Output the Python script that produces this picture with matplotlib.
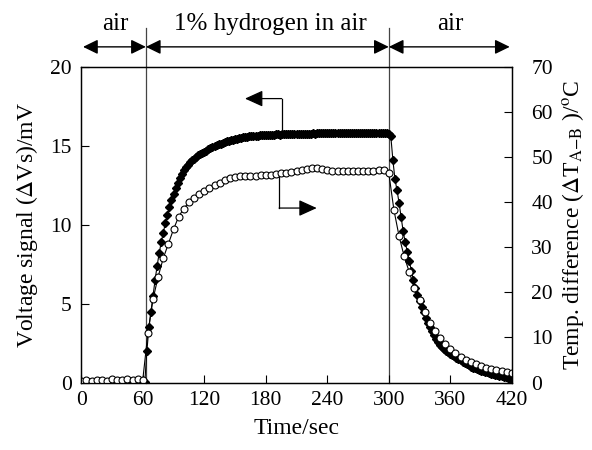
import matplotlib
matplotlib.use("Agg")
import matplotlib.pyplot as plt
import matplotlib.transforms as mtransforms

plt.rcParams['font.family'] = ['Liberation Serif', 'STIXGeneral', 'DejaVu Serif']
plt.rcParams['mathtext.fontset'] = 'stix'

# ---- data: voltage signal (mV), sampled every 2 s ----
volt_time = list(range(0, 421, 2))
volt_mv = (
    [0.05] * 32 +                      # 0..62 s
    [2.0, 3.5, 4.5, 5.5, 6.5, 7.4, 8.2, 8.9, 9.5, 10.1,      # 64..82
     10.6, 11.1, 11.6, 11.95, 12.3, 12.65, 12.95, 13.2, 13.45, 13.65,  # 84..102
     13.8, 13.95, 14.08, 14.2, 14.3, 14.4, 14.48, 14.56, 14.63, 14.7,  # 104..122
     14.78, 14.85, 14.92, 14.98, 15.04, 15.1, 15.15, 15.2, 15.25, 15.28,  # 124..142
     15.32, 15.36, 15.4, 15.43, 15.46, 15.49, 15.52, 15.54, 15.56, 15.58,  # 144..162
     15.6, 15.62, 15.64, 15.65, 15.66, 15.67, 15.68, 15.69, 15.7, 15.7,  # 164..182
     15.71, 15.72, 15.72, 15.73, 15.73, 15.72, 15.74, 15.74, 15.75, 15.74,  # 184..202
     15.75, 15.76, 15.75, 15.76, 15.77, 15.76, 15.77, 15.78, 15.77, 15.78,  # 204..222
     15.78, 15.79, 15.78, 15.79, 15.8, 15.79, 15.8, 15.8, 15.79, 15.8,  # 224..242
     15.8, 15.81, 15.8, 15.81, 15.8, 15.81, 15.81, 15.8, 15.81, 15.82,  # 244..262
     15.81, 15.82, 15.81, 15.82, 15.82, 15.81, 15.82, 15.82, 15.81, 15.82,  # 264..282
     15.82, 15.81, 15.82, 15.82, 15.81, 15.82, 15.8, 15.8, 15.78,       # 284..300
     15.6, 14.1, 12.9, 12.2, 11.4, 10.5, 9.6, 8.9, 8.3, 7.7,   # 302..320
     7.1, 6.5, 6.0, 5.55, 5.15, 4.8, 4.45, 4.1, 3.8, 3.5,       # 322..340
     3.25, 3.0, 2.78, 2.58, 2.4, 2.25, 2.12, 2.0, 1.92, 1.83,   # 342..360
     1.74, 1.65, 1.56, 1.48, 1.4, 1.32, 1.24, 1.16, 1.08, 1.0,  # 362..380
     0.95, 0.9, 0.85, 0.8, 0.76, 0.72, 0.68, 0.64, 0.6, 0.56,   # 382..400
     0.52, 0.48, 0.45, 0.42, 0.39, 0.36, 0.33, 0.29, 0.25, 0.2]  # 402..420
)

# ---- data: temperature difference (deg C), sampled every 5 s ----
temp_time = list(range(0, 421, 5))
temp_c = [
    0.4, 0.5, 0.4, 0.6, 0.5, 0.4, 0.8, 0.5, 0.6, 0.8, 0.6, 0.7, 0.6,   # 0..60
    11.0, 18.5, 23.5, 27.6, 30.8, 34.0, 36.8, 38.6, 40.0, 41.0, 41.9,  # 65..115
    42.6, 43.2, 43.8, 44.3, 44.9, 45.4, 45.6, 45.8, 45.8, 45.9, 45.9,  # 120..170
    46.0, 46.0, 46.1, 46.3, 46.5, 46.6, 46.8, 47.0, 47.1, 47.3, 47.5,  # 175..225
    47.6, 47.4, 47.2, 47.0, 46.9, 46.9, 46.9, 47.0, 46.9, 46.9, 47.0,  # 230..280
    47.0, 47.1, 47.2, 46.5,                                              # 285..300
    38.3, 32.5, 28.0, 24.5, 21.0, 18.2, 15.6, 13.3, 11.4, 9.8,         # 305..350
    8.5, 7.4, 6.5, 5.7, 5.0, 4.5, 4.0, 3.6, 3.3, 3.0, 2.8, 2.6, 2.4, 2.0]  # 355..420

x_ticks = [0, 60, 120, 180, 240, 300, 360, 420]
y_left_ticks = [0, 5, 10, 15, 20]
y_right_ticks = [0, 10, 20, 30, 40, 50, 60, 70]
switch_times = [63, 300]
phase_labels = ["air", "1% hydrogen in air", "air"]
phase_centers = [33, 184, 360]
phase_spans = [(1.7, 63), (63, 300), (300, 418)]

fig = plt.figure(figsize=(5.92, 4.5), dpi=100)
ax = fig.add_axes([0.1373, 0.15, 0.8645 - 0.1373, 0.851 - 0.15])
ax2 = ax.twinx()

ax.plot(volt_time, volt_mv, color='black', lw=0.8, marker='D', ms=4.2,
        mfc='black', mec='black', zorder=3)
ax2.plot(temp_time, temp_c, color='black', lw=0.8, marker='o', ms=5.0,
         mfc='white', mec='black', mew=0.8, zorder=2)

ax.set_xlim(0, 420)
ax.set_ylim(0, 20)
ax2.set_ylim(0, 70)
ax.set_xticks(x_ticks)
ax.set_yticks(y_left_ticks)
ax2.set_yticks(y_right_ticks)
fs = 15.5
ax.tick_params(axis='y', direction='in', length=6, width=0.8, labelsize=fs, pad=7)
ax.tick_params(axis='x', direction='in', length=6, width=0.8, labelsize=fs, pad=6)
ax2.tick_params(axis='y', direction='in', length=6, width=0.8, labelsize=fs, pad=14)
ax.tick_params(top=False)
for a in (ax, ax2):
    for s in a.spines.values():
        s.set_linewidth(0.9)

ax.set_xlabel('Time/sec', fontsize=17, labelpad=6)
ax.set_ylabel(r'Voltage signal ($\Delta$Vs)/mV', fontsize=17, labelpad=7)
ax2.set_ylabel(r'Temp. difference ($\Delta$T$_{\mathrm{A{-}B}}$ )/$^{\mathrm{o}}$C',
               fontsize=17, labelpad=5)

trans = mtransforms.blended_transform_factory(ax.transData, ax.transAxes)
for t in switch_times:
    ax.plot([t, t], [0, 1.123], transform=trans, color='#444444', lw=0.9,
            clip_on=False, zorder=1)
for (x0, x1) in phase_spans:
    ax.annotate('', xy=(x1, 1.064), xytext=(x0, 1.064), xycoords=trans,
                textcoords=trans,
                arrowprops=dict(arrowstyle='<|-|>,head_length=0.45,head_width=0.22',
                                color='black', lw=1.0, shrinkA=0, shrinkB=0,
                                mutation_scale=20), annotation_clip=False)
for lab, xc in zip(phase_labels, phase_centers):
    ax.text(xc, 1.119, lab, transform=trans, ha='center', va='baseline', fontsize=18)

# pointer arrows
ax.plot([195.5, 195.5], [16.0, 18.0], color='black', lw=0.9)
ax.annotate('', xy=(159.7, 18.0), xytext=(195.5, 18.0),
            arrowprops=dict(arrowstyle='-|>,head_length=0.55,head_width=0.25',
                            color='black', lw=0.9, shrinkA=0, shrinkB=0,
                            mutation_scale=20))
ax.plot([193, 193], [13.04, 11.06], color='black', lw=0.9)
ax.annotate('', xy=(229.7, 11.06), xytext=(193, 11.06),
            arrowprops=dict(arrowstyle='-|>,head_length=0.55,head_width=0.25',
                            color='black', lw=0.9, shrinkA=0, shrinkB=0,
                            mutation_scale=20))

fig.savefig('out.png', dpi=100)
